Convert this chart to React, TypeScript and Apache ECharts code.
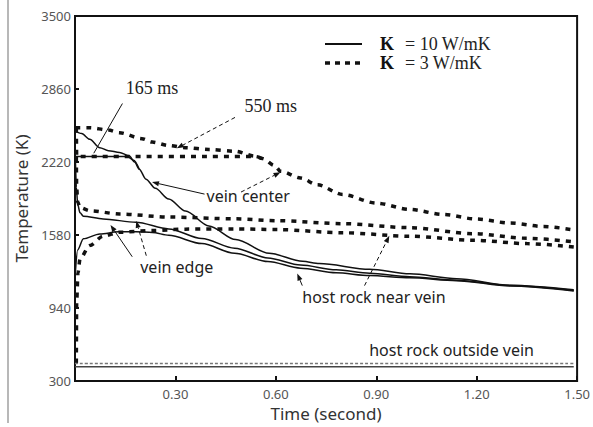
import React, { useEffect, useRef } from "react";
import * as echarts from "echarts";

// ---- data: [time (s), temperature (K)] ----
const solidVeinCenter: [number, number][] = [
  [0, 2491], [0.02, 2470], [0.044, 2419], [0.074, 2346], [0.1, 2320], [0.133, 2303],
  [0.162, 2275], [0.178, 2220], [0.192, 2157], [0.212, 2070], [0.24, 1990], [0.28, 1896],
  [0.33, 1790], [0.4, 1660], [0.48, 1540], [0.58, 1420], [0.68, 1350], [0.73, 1330],
  [0.88, 1280], [1.0, 1240], [1.14, 1198], [1.3, 1140], [1.49, 1100],
];
const solidPlateau: [number, number][] = [
  [0.001, 2268], [0.157, 2268], [0.175, 2235], [0.192, 2157],
];
const solidVeinEdge: [number, number][] = [
  [0.001, 2268], [0.004, 2000], [0.008, 1850], [0.015, 1775], [0.025, 1745], [0.084, 1721],
  [0.182, 1692], [0.28, 1634], [0.379, 1550], [0.477, 1465], [0.576, 1380], [0.674, 1318],
  [0.78, 1275], [0.88, 1245], [1.0, 1215], [1.14, 1185], [1.3, 1138], [1.49, 1095],
];
const solidHostNear: [number, number][] = [
  [0.001, 1250], [0.008, 1450], [0.025, 1547], [0.074, 1590], [0.13, 1608], [0.182, 1610],
  [0.231, 1603], [0.28, 1578], [0.379, 1505], [0.477, 1420], [0.576, 1348], [0.674, 1290],
  [0.78, 1250], [0.88, 1225], [1.0, 1205], [1.14, 1180], [1.3, 1133], [1.49, 1090],
];
const solidHostOutside: [number, number][] = [[0, 425], [1.49, 425]];

const dashVeinCenter: [number, number][] = [
  [0.001, 2521], [0.044, 2521], [0.1, 2500], [0.133, 2477], [0.2, 2425], [0.231, 2395],
  [0.28, 2365], [0.33, 2346], [0.4, 2330], [0.477, 2315], [0.537, 2273], [0.56, 2250],
  [0.596, 2190], [0.614, 2140], [0.674, 2080], [0.724, 2020], [0.8, 1935], [0.9, 1860],
  [1.0, 1805], [1.1, 1760], [1.2, 1720], [1.3, 1685], [1.4, 1655], [1.49, 1625],
];
const dashPlateau: [number, number][] = [
  [0.004, 2521], [0.005, 2268], [0.54, 2268], [0.56, 2250],
];
const dashVeinEdge: [number, number][] = [
  [0.004, 2268], [0.005, 2000], [0.008, 1870], [0.015, 1820], [0.044, 1793], [0.133, 1765],
  [0.28, 1738], [0.477, 1722], [0.605, 1706], [0.8, 1680], [1.0, 1645], [1.19, 1592],
  [1.35, 1552], [1.49, 1521],
];
const dashHostNear: [number, number][] = [
  [0.004, 455], [0.005, 1000], [0.009, 1250], [0.015, 1372], [0.044, 1488], [0.084, 1570],
  [0.133, 1605], [0.231, 1619], [0.33, 1632], [0.477, 1634], [0.605, 1628], [0.8, 1600],
  [1.0, 1570], [1.19, 1535], [1.35, 1505], [1.49, 1476],
];
const dashHostOutside: [number, number][] = [[0, 455], [1.49, 455]];

const yTicks = [300, 940, 1580, 2220, 2860, 3500];
const xTicks = [0.3, 0.6, 0.9, 1.2, 1.5];

const legendLabels = ["= 10 W/mK", "= 3 W/mK"];

// annotation anchors in data coordinates [time, temperature]
const notes = {
  ms165: { text: "165 ms", at: [0.23, 2872], from: [0.1417, 2733], to: [0.0561, 2297] },
  ms550: { text: "550 ms", at: [0.585, 2707], from: [0.478, 2611], to: [0.304, 2340] },
  center: { text: "vein center", at: [0.393, 1922], solidFrom: [0.387, 1939], solidTo: [0.23, 2044], dashFrom: [0.496, 1957], dashTo: [0.614, 2131] },
  edge: { text: "vein edge", at: [0.304, 1302], solidFrom: [0.171, 1390], solidTo: [0.106, 1669], dashFrom: [0.213, 1399], dashTo: [0.183, 1704] },
  near: { text: "host rock near vein", at: [0.893, 1041], solidFrom: [0.679, 1137], solidTo: [0.664, 1242], dashFrom: [0.865, 1137], dashTo: [0.939, 1573] },
  outside: { text: "host rock outside vein", at: [1.125, 570] },
};

const SANS = "'Noto Sans', 'Open Sans', sans-serif";
const SERIF = "'Liberation Serif', 'DejaVu Serif', serif";
const INK = "#111";

export default function App() {
  const ref = useRef<HTMLDivElement>(null);
  useEffect(() => {
    document.body.style.margin = "0";
    const chart = echarts.init(ref.current!, null, { renderer: "svg" });
    const solid = (data: [number, number][], width = 1.5, color = INK) => ({
      type: "line", data, symbol: "none", smooth: 0.3, smoothMonotone: "x",
      lineStyle: { color, width, type: "solid" }, silent: true,
    });
    const dashed = (data: [number, number][], width = 3.5, color = INK, dash = [5, 6]) => ({
      type: "line", data, symbol: "none", smooth: 0.3, smoothMonotone: "x",
      lineStyle: { color, width, type: dash, cap: "butt" }, silent: true,
    });
    chart.setOption({
      animation: false,
      backgroundColor: "#fff",
      grid: { left: 75, right: 10, top: 16, bottom: 44, show: true, borderColor: INK, borderWidth: 2, backgroundColor: "transparent" },
      xAxis: {
        type: "value", min: 0, max: 1.5, interval: 0.3,
        name: "Time (second)", nameLocation: "middle", nameGap: 22,
        nameTextStyle: { fontFamily: SANS, fontSize: 17, color: "#333" },
        axisLine: { lineStyle: { color: INK, width: 2 } },
        axisTick: { inside: true, length: 5, lineStyle: { color: INK, width: 2 }, customValues: xTicks },
        axisLabel: { customValues: xTicks, formatter: (v: number) => v.toFixed(2), fontFamily: SANS, fontSize: 13, color: "#555", margin: 6 },
        splitLine: { show: false },
      },
      yAxis: {
        type: "value", min: 300, max: 3500,
        name: "Temperature (K)", nameLocation: "middle", nameGap: 36,
        nameTextStyle: { fontFamily: SANS, fontSize: 17, color: "#333" },
        axisLine: { show: true, lineStyle: { color: INK, width: 2 } },
        axisTick: { show: true, inside: true, length: 4, lineStyle: { color: INK, width: 2 }, customValues: yTicks },
        axisLabel: { customValues: yTicks, formatter: (v: number) => String(v), fontFamily: SANS, fontSize: 13, color: "#555", margin: 4 },
        splitLine: { show: false },
      },
      series: [
        solid(solidVeinCenter),
        solid(solidPlateau),
        solid(solidVeinEdge),
        solid(solidHostNear),
        solid(solidHostOutside, 1.5, "#444"),
        dashed(dashVeinCenter),
        dashed(dashPlateau),
        dashed(dashVeinEdge),
        dashed(dashHostNear),
        dashed(dashHostOutside, 1.5, "#777", [3, 2]),
      ],
    });

    const px = (p: number[]) => chart.convertToPixel({ gridIndex: 0 }, p) as number[];
    const arrow = (a: number[], b: number[], dash: boolean, head = true) => {
      const p1 = px(a), p2 = px(b);
      const dx = p2[0] - p1[0], dy = p2[1] - p1[1];
      const len = Math.hypot(dx, dy);
      const ux = dx / len, uy = dy / len;
      const hl = 7, hw = 2.6;
      const base = [p2[0] - ux * hl, p2[1] - uy * hl];
      const els: any[] = [{
        type: "line", silent: true,
        shape: { x1: p1[0], y1: p1[1], x2: head ? base[0] : p2[0], y2: head ? base[1] : p2[1] },
        style: { stroke: INK, lineWidth: 1, lineDash: dash ? [4, 3] : null },
      }];
      if (head) {
        els.push({
          type: "polygon", silent: true,
          shape: { points: [[p2[0], p2[1]], [base[0] - uy * hw, base[1] + ux * hw], [base[0] + uy * hw, base[1] - ux * hw]] },
          style: { fill: INK },
        });
      }
      return els;
    };
    const label = (text: string, at: number[], font: string, align = "center") => {
      const p = px(at);
      return {
        type: "text", silent: true, x: p[0], y: p[1],
        style: { text, fill: "#222", font, align, verticalAlign: "middle" },
      };
    };
    const sansFont = `16px ${SANS}`;
    const serifFont = `18px ${SERIF}`;
    const g: any[] = [
      { type: "line", silent: true, shape: { x1: 8, y1: 0, x2: 8, y2: 423 }, style: { stroke: "#a0a0a0", lineWidth: 1.5 } },
      label(notes.ms165.text, notes.ms165.at, serifFont),
      ...arrow(notes.ms165.from, notes.ms165.to, false, false),
      label(notes.ms550.text, notes.ms550.at, serifFont),
      ...arrow(notes.ms550.from, notes.ms550.to, true),
      label(notes.center.text, notes.center.at, sansFont, "left"),
      ...arrow(notes.center.solidFrom, notes.center.solidTo, false),
      ...arrow(notes.center.dashFrom, notes.center.dashTo, true),
      label(notes.edge.text, notes.edge.at, sansFont),
      ...arrow(notes.edge.solidFrom, notes.edge.solidTo, false),
      ...arrow(notes.edge.dashFrom, notes.edge.dashTo, true),
      label(notes.near.text, notes.near.at, sansFont),
      ...arrow(notes.near.solidFrom, notes.near.solidTo, false),
      ...arrow(notes.near.dashFrom, notes.near.dashTo, true),
      label(notes.outside.text, notes.outside.at, sansFont),
      // legend
      { type: "line", silent: true, shape: { x1: 325, y1: 44, x2: 362, y2: 44 }, style: { stroke: INK, lineWidth: 2 } },
      { type: "line", silent: true, shape: { x1: 325, y1: 63, x2: 362, y2: 63 }, style: { stroke: INK, lineWidth: 3.5, lineDash: [5, 5] } },
      { type: "text", silent: true, x: 380, y: 44, style: { text: "Κ", font: `bold 18px ${SERIF}`, fill: INK, verticalAlign: "middle" } },
      { type: "text", silent: true, x: 380, y: 63, style: { text: "Κ", font: `bold 18px ${SERIF}`, fill: INK, verticalAlign: "middle" } },
      { type: "text", silent: true, x: 405, y: 44, style: { text: legendLabels[0], font: `18px ${SERIF}`, fill: "#222", verticalAlign: "middle" } },
      { type: "text", silent: true, x: 405, y: 63, style: { text: legendLabels[1], font: `18px ${SERIF}`, fill: "#222", verticalAlign: "middle" } },
    ];
    chart.setOption({ graphic: g });
    return () => chart.dispose();
  }, []);
  return <div ref={ref} style={{ width: 593, height: 427 }} />;
}
